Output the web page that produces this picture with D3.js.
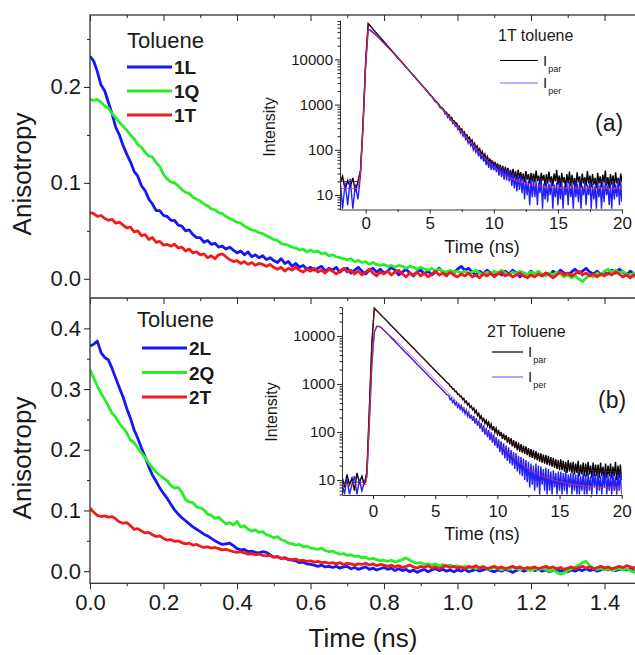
<!DOCTYPE html>
<html>
<head>
<meta charset="utf-8">
<script src="https://cdn.jsdelivr.net/npm/d3@7"></script>
<style>
  body { margin: 0; background: #fff; }
</style>
</head>
<body>
<svg id="chart" width="635" height="655"></svg>
<script>
// anisotropy traces, one value every 0.01 ns from 0 to 1.5 ns
const ANI_DT = 0.01;

const A_1L = [
  0.232,0.227,0.216,0.202,0.196,0.184,0.172,0.158,0.150,0.139,
  0.130,0.122,0.112,0.107,0.097,0.092,0.083,0.078,0.071,0.071,
  0.066,0.065,0.061,0.061,0.056,0.055,0.050,0.051,0.046,0.043,
  0.043,0.038,0.040,0.036,0.037,0.033,0.034,0.031,0.033,0.030,
  0.027,0.029,0.025,0.028,0.023,0.025,0.022,0.024,0.020,0.022,
  0.019,0.017,0.021,0.016,0.018,0.013,0.016,0.012,0.014,0.010,
  0.012,0.009,0.011,0.013,0.008,0.011,0.009,0.012,0.007,0.010,
  0.011,0.006,0.009,0.012,0.008,0.005,0.009,0.011,0.007,0.010,
  0.006,0.008,0.012,0.009,0.004,0.007,0.010,0.006,0.003,0.007,
  0.009,0.005,0.008,0.004,0.007,0.011,0.007,0.004,0.008,0.006,
  0.010,0.013,0.009,0.011,0.007,0.004,0.008,0.005,0.009,0.006,
  0.003,0.007,0.004,0.008,0.005,0.009,0.006,0.002,0.006,0.004,
  0.008,0.005,0.007,0.003,0.006,0.004,0.008,0.005,0.009,0.006,
  0.004,0.007,0.010,0.006,0.008,0.011,0.007,0.005,0.008,0.004,
  0.007,0.005,0.009,0.006,0.010,0.007,0.004,0.008,0.005,0.007,
  0.004
];
const A_1Q = [
  0.187,0.186,0.187,0.184,0.180,0.178,0.172,0.168,0.163,0.159,
  0.155,0.150,0.146,0.140,0.137,0.132,0.128,0.127,0.121,0.117,
  0.109,0.104,0.101,0.100,0.097,0.093,0.090,0.089,0.085,0.083,
  0.081,0.078,0.076,0.073,0.072,0.069,0.068,0.065,0.063,0.061,
  0.059,0.058,0.055,0.053,0.051,0.050,0.048,0.047,0.045,0.043,
  0.041,0.040,0.037,0.036,0.035,0.033,0.032,0.030,0.031,0.028,
  0.030,0.028,0.029,0.026,0.027,0.024,0.025,0.023,0.022,0.021,
  0.020,0.021,0.018,0.019,0.017,0.018,0.015,0.017,0.015,0.014,
  0.015,0.013,0.014,0.012,0.014,0.013,0.011,0.013,0.012,0.010,
  0.012,0.010,0.009,0.011,0.008,0.010,0.008,0.007,0.009,0.007,
  0.008,0.006,0.008,0.005,0.007,0.009,0.006,0.004,0.007,0.005,
  0.008,0.006,0.009,0.006,0.004,0.007,0.005,0.008,0.006,0.004,
  0.007,0.005,0.008,0.005,0.003,0.006,0.004,0.007,0.005,0.002,
  0.004,0.001,0.003,0.000,-0.003,0.001,0.004,0.002,0.006,0.004,
  0.008,0.010,0.007,0.009,0.006,0.008,0.005,0.003,0.006,0.004,
  0.006
];
const A_1T = [
  0.069,0.068,0.065,0.066,0.063,0.061,0.062,0.058,0.059,0.056,
  0.053,0.054,0.049,0.050,0.045,0.046,0.041,0.043,0.038,0.039,
  0.035,0.036,0.034,0.036,0.032,0.033,0.029,0.031,0.027,0.028,
  0.025,0.026,0.022,0.024,0.021,0.025,0.026,0.023,0.020,0.018,
  0.019,0.016,0.018,0.015,0.017,0.014,0.016,0.015,0.013,0.015,
  0.012,0.010,0.012,0.008,0.011,0.009,0.012,0.009,0.007,0.010,
  0.008,0.011,0.007,0.009,0.006,0.010,0.008,0.005,0.008,0.011,
  0.007,0.009,0.005,0.008,0.004,0.007,0.010,0.006,0.003,0.007,
  0.005,0.008,0.004,0.007,0.009,0.005,0.002,0.006,0.004,0.007,
  0.003,0.006,0.002,0.005,0.008,0.004,0.006,0.003,0.007,0.004,
  0.002,0.005,0.003,0.006,0.002,0.004,0.001,0.005,0.003,0.006,
  0.002,0.005,0.007,0.003,0.005,0.002,0.004,0.006,0.003,0.001,
  0.004,0.002,0.005,0.003,0.006,0.004,0.001,0.004,0.007,0.004,
  0.006,0.003,0.005,0.008,0.004,0.006,0.003,0.005,0.002,0.005,
  0.003,0.006,0.004,0.007,0.005,0.002,0.004,0.001,0.004,0.000,
  -0.001
];
const A_2L = [
  0.371,0.374,0.379,0.360,0.352,0.348,0.334,0.318,0.302,0.287,
  0.268,0.252,0.233,0.219,0.203,0.188,0.172,0.158,0.148,0.137,
  0.128,0.120,0.110,0.101,0.094,0.088,0.083,0.078,0.073,0.069,
  0.065,0.061,0.058,0.054,0.050,0.047,0.044,0.045,0.046,0.042,
  0.037,0.035,0.036,0.032,0.033,0.031,0.030,0.032,0.031,0.027,
  0.023,0.024,0.021,0.022,0.019,0.018,0.017,0.014,0.015,0.012,
  0.011,0.010,0.008,0.010,0.007,0.008,0.006,0.008,0.005,0.007,
  0.008,0.004,0.006,0.003,0.005,0.007,0.003,0.005,0.002,0.004,
  0.006,0.003,0.005,0.001,0.004,0.001,0.003,-0.001,0.002,-0.002,
  0.001,0.003,-0.001,0.002,0.004,0.001,0.003,0.000,0.002,-0.001,
  0.002,0.000,0.003,-0.001,0.001,0.003,0.000,0.002,0.004,0.001,
  -0.001,0.002,0.000,0.003,0.001,-0.002,0.001,0.003,0.000,0.002,
  0.004,0.001,0.003,0.000,0.002,-0.001,0.001,0.003,0.000,0.002,
  -0.001,0.002,0.000,0.003,0.001,0.004,0.001,0.003,0.000,0.002,
  0.005,0.002,0.004,0.001,0.003,0.005,0.002,0.004,0.000,-0.003,
  -0.001
];
const A_2Q = [
  0.332,0.318,0.305,0.293,0.283,0.272,0.260,0.254,0.243,0.236,
  0.228,0.216,0.212,0.203,0.195,0.187,0.178,0.170,0.163,0.158,
  0.153,0.149,0.141,0.137,0.138,0.130,0.118,0.114,0.113,0.106,
  0.104,0.101,0.094,0.092,0.087,0.089,0.083,0.078,0.080,0.076,
  0.082,0.073,0.075,0.069,0.066,0.068,0.064,0.065,0.060,0.058,
  0.055,0.057,0.052,0.050,0.046,0.045,0.043,0.044,0.040,0.041,
  0.038,0.037,0.036,0.038,0.034,0.032,0.033,0.030,0.028,0.029,
  0.026,0.027,0.024,0.025,0.022,0.023,0.020,0.021,0.019,0.017,
  0.018,0.016,0.018,0.015,0.017,0.019,0.022,0.018,0.015,0.013,
  0.014,0.011,0.012,0.010,0.012,0.009,0.011,0.008,0.010,0.007,
  0.009,0.006,0.008,0.005,0.007,0.004,0.006,0.008,0.005,0.003,
  0.006,0.004,0.002,0.005,0.003,0.006,0.004,0.002,0.005,0.003,
  0.001,0.004,0.002,0.005,0.003,0.000,0.002,-0.002,-0.005,-0.003,
  0.001,0.004,0.007,0.010,0.014,0.016,0.009,0.005,0.003,0.005,
  0.002,0.004,0.001,0.003,0.005,0.002,0.004,0.001,-0.002,0.001,
  0.003
];
const A_2T = [
  0.104,0.097,0.092,0.090,0.091,0.089,0.090,0.086,0.081,0.079,
  0.080,0.075,0.069,0.070,0.066,0.063,0.064,0.060,0.057,0.058,
  0.054,0.051,0.052,0.049,0.050,0.047,0.045,0.046,0.043,0.044,
  0.041,0.039,0.040,0.038,0.039,0.037,0.035,0.036,0.034,0.032,
  0.031,0.032,0.030,0.028,0.029,0.027,0.028,0.026,0.025,0.026,
  0.023,0.024,0.021,0.022,0.020,0.019,0.020,0.017,0.018,0.016,
  0.017,0.015,0.016,0.014,0.015,0.013,0.014,0.012,0.014,0.011,
  0.013,0.012,0.010,0.012,0.011,0.013,0.010,0.012,0.009,0.011,
  0.010,0.008,0.010,0.007,0.009,0.006,0.008,0.010,0.007,0.005,
  0.008,0.006,0.009,0.005,0.007,0.004,0.007,0.009,0.006,0.008,
  0.005,0.007,0.004,0.008,0.006,0.009,0.005,0.007,0.004,0.006,
  0.008,0.005,0.007,0.004,0.006,0.008,0.005,0.007,0.004,0.006,
  0.005,0.007,0.004,0.006,0.008,0.005,0.007,0.004,0.006,0.003,
  0.005,0.007,0.004,0.006,0.008,0.005,0.007,0.004,0.006,0.008,
  0.005,0.007,0.004,0.006,0.008,0.006,0.009,0.007,0.005,0.008,
  0.006
];

// inset decays: a head every 0.2 ns, then a tail every 0.1 ns from 6.1 to 20 ns
const HEAD_DT = 0.2;
const TAIL_T0 = 6.1, TAIL_DT = 0.1;

const HEAD_A_T0 = -2;
const PAR_A_HEAD = [
  18,26,13,21,15,24,12,20,35,400,
  9000,62000,53100,45700,39400,33900,29200,25100,21600,18600,
  16000,13800,11900,10200,8810,7590,6530,5620,4840,4170,
  3590,3090,2660,2290,1970,1700,1480,1250,1100,920,
  830
];
const PAR_A_TAIL = [
  760,690,680,590,600,510,520,445,440,385,
  390,320,335,270,290,236,250,200,215,175,
  190,150,165,125,140,108,122,92,105,80,
  92,68,80,58,70,52,64,46,58,42,
  54,38,50,34,47,33,44,30,42,29,
  40,27,36,25,38,24,34,22,36,23,
  32,21,30,19,34,22,29,18,31,20,
  30,19,35,20,27,17,31,21,28,16,
  29,18,33,19,26,16,30,20,36,17,
  27,15,31,19,25,14,29,18,33,16,
  28,17,24,15,32,19,26,14,30,18,
  25,16,34,18,27,15,29,17,24,14,
  31,18,26,15,28,19,35,16,25,14,
  29,17,27,15,32,18,24,16,30,19
];
const PER_A_HEAD = [
  24,5,19,6,23,5,17,8,28,320,
  7000,46000,43500,39000,34700,30500,26700,23300,20300,17700,
  15400,13400,11600,10000,8700,7500,6480,5600,4830,4160,
  3580,3080,2650,2280,1960,1650,1460,1190,1070,860,
  790
];
const PER_A_TAIL = [
  720,620,640,520,560,450,480,380,410,330,
  345,280,300,235,260,200,225,170,185,140,
  160,122,140,100,120,88,104,72,90,62,
  78,55,70,46,62,40,56,36,52,35,
  48,32,45,27,42,25,39,22,38,21,
  36,20,33,16,30,14,27,12,28,13,
  26,11,24,8,23,10,21,6,22,9,
  22,9,20,6,19,11,23,5,18,8,
  20,7,18,10,21,5,17,9,19,6,
  19,8,21,5,16,10,18,6,20,9,
  17,5,20,9,18,7,22,5,16,10,
  19,6,17,10,21,5,18,8,16,5,
  20,9,17,5,19,7,21,10,16,6,
  18,5,20,8,17,9,22,6,19,7
];
const FIT_T_A = [-2,-0.6,-0.4,-0.2,0,0.2,1,2,3,4,5,6,7,8,9,10,11,12,13,14,15,16,18,20];
const FIT_PAR_A = [20,20,35,420,9500,62000,34000,16000,7600,3580,1700,805,385,185,92,52,34,27,24,22,21.5,21,20.5,20];
const FIT_PER_A = [14,14,30,350,7500,46000,30000,15200,7600,3560,1680,785,365,170,80,42,26,19.5,16.5,15.2,14.6,14.3,14.1,14];

const HEAD_B_T0 = -2.5;
const PAR_B_HEAD = [
  12,7,13,8,11,6,14,9,12,8,
  15,300,7000,38000,33600,29800,26400,23300,20700,18300,
  16200,14300,12700,11200,9930,8790,7780,6890,6100,5400,
  4780,4230,3740,3310,2930,2590,2300,2030,1800,1590,
  1410,1250,1100
];
const PAR_B_TAIL = [
  1000,890,880,780,790,690,700,610,620,545,
  560,470,500,410,440,365,395,325,350,290,
  315,250,280,220,245,190,215,170,190,150,
  175,135,160,122,145,108,132,98,118,90,
  110,82,100,72,92,68,86,60,78,56,
  74,50,68,46,64,42,60,39,56,37,
  52,35,50,33,46,30,44,29,42,27,
  40,26,37,24,36,23,34,22,33,21,
  32,20,30,19,29,18,27,17,26,16,
  27,16,25,15,24,14,26,15,23,14,
  24,13,22,14,25,12,21,13,23,12,
  22,12,24,13,20,11,23,12,21,12,
  21,11,23,12,19,10,22,11,20,12,
  22,11,19,12,24,10,20,11,21,10
];
const PER_B_HEAD = [
  9,5,11,5,8,12,5,10,6,9,
  12,150,2500,12000,16000,15800,14600,13000,11500,10200,
  9000,7950,7050,6230,5510,4880,4320,3820,3390,3000,
  2650,2350,2080,1840,1630,1440,1280,1130,1000,885,
  785,695,610
];
const PER_B_TAIL = [
  570,470,510,410,460,370,415,330,375,300,
  350,270,315,240,285,215,255,190,230,170,
  215,150,195,135,172,118,155,100,138,88,
  122,78,110,68,98,60,88,52,78,46,
  70,38,64,33,58,28,52,25,48,22,
  42,20,38,17,36,15,32,13,30,12,
  28,10,26,9,24,7,22,8,20,6,
  22,7,20,5,19,8,17,6,18,5,
  17,6,15,5,16,7,14,5,15,6,
  15,5,14,6,16,5,13,7,14,5,
  14,6,13,5,15,5,12,6,14,5,
  13,5,14,6,12,5,15,7,13,5,
  14,6,12,5,13,7,15,5,12,6,
  13,5,14,6,12,5,13,6,14,5
];
const FIT_T_B = [-2.5,-0.6,-0.5,-0.3,-0.1,0.1,0.3,0.5,1,2,3,4,5,6,7,8,9,10,11,12,13,14,15,16,17,18,20];
const FIT_PAR_B = [9,9,15,320,7200,38000,33600,29800,22000,12000,6500,3500,1900,1040,570,310,175,100,64,44,33,26,21,18,16.5,15.5,14.5];
const FIT_PER_B = [8,8,11,160,2600,12000,16000,15800,12200,7400,4100,2250,1230,670,365,200,110,60,34,21,14,11,9.2,8.2,7.5,7.1,6.7];

// ticks and labels
const X_TICKS = [0, 0.2, 0.4, 0.6, 0.8, 1.0, 1.2, 1.4];
const X_MINOR = [0.1, 0.3, 0.5, 0.7, 0.9, 1.1, 1.3];
const TOP_Y_TICKS = [0, 0.1, 0.2];
const TOP_Y_MINOR = [0.05, 0.15, 0.25];
const BOT_Y_TICKS = [0, 0.1, 0.2, 0.3, 0.4];
const BOT_Y_MINOR = [0.05, 0.15, 0.25, 0.35];
const INSET_X_TICKS = [0, 5, 10, 15, 20];
const INSET_X_MINOR = [-2.5, 2.5, 7.5, 12.5, 17.5];
const INSET_Y_TICKS = [10, 100, 1000, 10000];

const FONT = "'Liberation Sans', Arial, Helvetica, sans-serif";
const BLUE = "#1717f5", GREEN = "#27ee27", RED = "#f21a1a";

const svg = d3.select("#chart");
const x = d3.scaleLinear().domain([0, 1.5]).range([90, 641.25]);

function points(vals, t0, dt) {
  return vals.map((v, i) => [t0 + i * dt, v]);
}

function styleAxis(g, size) {
  g.attr("font-family", FONT).attr("font-size", size);
  g.selectAll("line").attr("stroke", "#333").attr("stroke-width", 1.1);
  g.selectAll("path.domain").attr("stroke", "#333");
  g.selectAll("text").attr("fill", "#1a1a1a");
  return g;
}

function drawMain(p) {
  const y = d3.scaleLinear().domain(p.yDomain).range([p.bottom, p.top]);
  const clip = "clip-" + p.id;
  svg.append("clipPath").attr("id", clip).append("rect")
    .attr("x", x(0)).attr("y", p.top)
    .attr("width", x(1.5) - x(0)).attr("height", p.bottom - p.top);

  const line = d3.line().x(d => x(d[0])).y(d => y(d[1]));
  const lines = svg.append("g").attr("clip-path", "url(#" + clip + ")");
  p.series.forEach(s => {
    lines.append("path")
      .datum(points(s.values, 0, ANI_DT))
      .attr("fill", "none")
      .attr("stroke", s.color)
      .attr("stroke-width", 2.8)
      .attr("stroke-linejoin", "round")
      .attr("d", line);
  });

  // left axis with labels
  const left = svg.append("g").attr("transform", "translate(" + x(0) + ",0)")
    .call(d3.axisLeft(y).tickValues(p.yTicks).tickFormat(d3.format(".1f")).tickSize(6).tickPadding(3));
  left.select(".domain").remove();
  styleAxis(left, 22);
  const leftMinor = svg.append("g").attr("transform", "translate(" + x(0) + ",0)")
    .call(d3.axisLeft(y).tickValues(p.yMinor).tickFormat("").tickSize(3));
  leftMinor.select(".domain").remove();
  styleAxis(leftMinor, 10);

  // right axis, ticks pointing in
  [[p.yTicks, 6], [p.yMinor, 3]].forEach(([vals, len]) => {
    const r = svg.append("g").attr("transform", "translate(" + x(1.5) + ",0)")
      .call(d3.axisLeft(y).tickValues(vals).tickFormat("").tickSize(len));
    r.select(".domain").remove();
    styleAxis(r, 10);
  });

  // top edge ticks, pointing down
  if (p.topTicks) {
    [[X_TICKS, 6], [X_MINOR, 3]].forEach(([vals, len]) => {
      const t = svg.append("g").attr("transform", "translate(0," + p.top + ")")
        .call(d3.axisBottom(x).tickValues(vals).tickFormat("").tickSize(len));
      t.select(".domain").remove();
      styleAxis(t, 10);
    });
  }

  // bottom edge
  const bottom = svg.append("g").attr("transform", "translate(0," + p.bottom + ")")
    .call(d3.axisBottom(x).tickValues(X_TICKS)
      .tickFormat(p.xLabels ? d3.format(".1f") : "").tickSize(6).tickPadding(5));
  bottom.select(".domain").remove();
  styleAxis(bottom, 22);
  const bottomMinor = svg.append("g").attr("transform", "translate(0," + p.bottom + ")")
    .call(d3.axisBottom(x).tickValues(X_MINOR).tickFormat("").tickSize(3));
  bottomMinor.select(".domain").remove();
  styleAxis(bottomMinor, 10);

  // y title
  svg.append("text")
    .attr("transform", "translate(31," + p.titleY + ") rotate(-90)")
    .attr("text-anchor", "middle")
    .attr("font-family", FONT).attr("font-size", 26).attr("fill", "#1a1a1a")
    .text("Anisotropy");

  // legend
  const lg = p.legend;
  svg.append("text")
    .attr("x", lg.x).attr("y", lg.titleY)
    .attr("font-family", FONT).attr("font-size", 22).attr("fill", "#1a1a1a")
    .text("Toluene");
  p.series.forEach((s, i) => {
    const ly = lg.y0 + i * lg.dy;
    svg.append("line")
      .attr("x1", lg.x + lg.indent).attr("x2", lg.x + lg.indent + 45)
      .attr("y1", ly).attr("y2", ly)
      .attr("stroke", s.color).attr("stroke-width", 3);
    svg.append("text")
      .attr("x", lg.x + lg.indent + 47).attr("y", ly + 7)
      .attr("font-family", FONT).attr("font-size", 19).attr("font-weight", "bold")
      .attr("fill", "#1a1a1a")
      .text(s.name);
  });
}

function drawInset(s) {
  const xi = d3.scaleLinear().domain(s.xDomain).range([s.left, s.right]);
  const yi = d3.scaleLog().domain(s.yDomain).range([s.bottom, s.top]);
  const clip = "clip-" + s.id;
  svg.append("clipPath").attr("id", clip).append("rect")
    .attr("x", s.left).attr("y", s.top - 4)
    .attr("width", s.right - s.left).attr("height", s.bottom - s.top + 4);

  const line = d3.line().x(d => xi(d[0])).y(d => yi(d[1]));
  const trace = (head, tail) => points(head, s.t0, HEAD_DT).concat(points(tail, TAIL_T0, TAIL_DT));
  const g = svg.append("g").attr("clip-path", "url(#" + clip + ")");
  g.append("path").datum(trace(s.parHead, s.parTail))
    .attr("fill", "none").attr("stroke", "#000").attr("stroke-width", 1.4).attr("d", line);
  g.append("path").datum(trace(s.perHead, s.perTail))
    .attr("fill", "none").attr("stroke", "#2020ff").attr("stroke-width", 1.4).attr("d", line);
  g.append("path").datum(s.fitT.map((t, i) => [t, s.fitPar[i]]))
    .attr("fill", "none").attr("stroke", "#7c1414").attr("stroke-width", 0.9).attr("d", line);
  g.append("path").datum(s.fitT.map((t, i) => [t, s.fitPer[i]]))
    .attr("fill", "none").attr("stroke", "#ff3030").attr("stroke-width", 0.8).attr("d", line);

  // log minor ticks
  const minor = [];
  [1, 10, 100, 1000, 10000].forEach(d => {
    for (let m = 2; m <= 9; m++) {
      const v = d * m;
      if (v > s.yDomain[0] && v < s.yDomain[1]) minor.push(v);
    }
  });

  const left = svg.append("g").attr("transform", "translate(" + s.left + ",0)")
    .call(d3.axisLeft(yi).tickValues(INSET_Y_TICKS).tickFormat(d3.format("d")).tickSize(5).tickSizeOuter(0).tickPadding(2));
  styleAxis(left, 15);
  const leftMinor = svg.append("g").attr("transform", "translate(" + s.left + ",0)")
    .call(d3.axisLeft(yi).tickValues(minor).tickFormat("").tickSize(2.5));
  leftMinor.select(".domain").remove();
  styleAxis(leftMinor, 10);

  const bottom = svg.append("g").attr("transform", "translate(0," + s.bottom + ")")
    .call(d3.axisBottom(xi).tickValues(INSET_X_TICKS).tickSize(4).tickSizeOuter(0).tickPadding(s.xPad));
  styleAxis(bottom, 17);
  const bottomMinor = svg.append("g").attr("transform", "translate(0," + s.bottom + ")")
    .call(d3.axisBottom(xi).tickValues(INSET_X_MINOR.filter(v => v > s.xDomain[0])).tickFormat("").tickSize(2.5));
  bottomMinor.select(".domain").remove();
  styleAxis(bottomMinor, 10);

  svg.append("text")
    .attr("transform", "translate(" + s.yTitle[0] + "," + s.yTitle[1] + ") rotate(-90)")
    .attr("text-anchor", "middle")
    .attr("font-family", FONT).attr("font-size", 16).attr("fill", "#1a1a1a")
    .text("Intensity");
  svg.append("text")
    .attr("x", s.xTitle[0]).attr("y", s.xTitle[1])
    .attr("text-anchor", "middle")
    .attr("font-family", FONT).attr("font-size", 18).attr("fill", "#1a1a1a")
    .text("Time (ns)");

  // legend
  const lg = s.legend;
  svg.append("text")
    .attr("x", lg.x).attr("y", lg.titleY)
    .attr("font-family", FONT).attr("font-size", 16).attr("fill", "#1a1a1a")
    .text(lg.title);
  [["par", "#000"], ["per", "#6b6bff"]].forEach(([sub, col], i) => {
    const ly = lg.y0 + i * lg.dy;
    svg.append("line")
      .attr("x1", lg.lx).attr("x2", lg.lx + lg.len)
      .attr("y1", ly).attr("y2", ly)
      .attr("stroke", col).attr("stroke-width", 1.2);
    const t = svg.append("text")
      .attr("x", lg.lx + lg.len + 5).attr("y", ly + 5)
      .attr("font-family", FONT).attr("font-size", 15).attr("fill", "#1a1a1a")
      .text("I");
    t.append("tspan").attr("dy", 6).attr("dx", 1).attr("font-size", 9).text(sub);
  });

  svg.append("text")
    .attr("x", s.tag[0]).attr("y", s.tag[1])
    .attr("font-family", FONT).attr("font-size", 23).attr("fill", "#1a1a1a")
    .text(s.tag[2]);
}

drawMain({
  id: "top", top: 15, bottom: 298, yDomain: [-0.02, 0.275],
  yTicks: TOP_Y_TICKS, yMinor: TOP_Y_MINOR, topTicks: true, xLabels: false,
  titleY: 174,
  series: [
    { name: "1L", values: A_1L, color: BLUE },
    { name: "1Q", values: A_1Q, color: GREEN },
    { name: "1T", values: A_1T, color: RED }
  ],
  legend: { x: 127, titleY: 48, indent: 0, y0: 67, dy: 24 }
});

drawMain({
  id: "bot", top: 298, bottom: 583.3, yDomain: [-0.02, 0.45],
  yTicks: BOT_Y_TICKS, yMinor: BOT_Y_MINOR, topTicks: false, xLabels: true,
  titleY: 458,
  series: [
    { name: "2L", values: A_2L, color: BLUE },
    { name: "2Q", values: A_2Q, color: GREEN },
    { name: "2T", values: A_2T, color: RED }
  ],
  legend: { x: 137, titleY: 327, indent: 5, y0: 348, dy: 24.5 }
});

// main frame
svg.append("rect")
  .attr("x", x(0)).attr("y", 15)
  .attr("width", x(1.5) - x(0)).attr("height", 583.3 - 15)
  .attr("fill", "none").attr("stroke", "#333").attr("stroke-width", 1.3);
svg.append("line")
  .attr("x1", x(0)).attr("x2", x(1.5)).attr("y1", 298).attr("y2", 298)
  .attr("stroke", "#333").attr("stroke-width", 1.3);

svg.append("text")
  .attr("x", 363).attr("y", 647)
  .attr("text-anchor", "middle")
  .attr("font-family", FONT).attr("font-size", 26).attr("fill", "#1a1a1a")
  .text("Time (ns)");

drawInset({
  id: "insA", left: 340, right: 622, top: 20, bottom: 209.5,
  xDomain: [-2, 20], yDomain: [4.8, 74000], t0: HEAD_A_T0,
  parHead: PAR_A_HEAD, parTail: PAR_A_TAIL, perHead: PER_A_HEAD, perTail: PER_A_TAIL,
  fitT: FIT_T_A, fitPar: FIT_PAR_A, fitPer: FIT_PER_A,
  xPad: 3, yTitle: [275, 127], xTitle: [482, 253],
  legend: { title: "1T toluene", x: 498, titleY: 41, lx: 500, len: 38, y0: 60.5, dy: 22.5 },
  tag: [595, 131, "(a)"]
});

drawInset({
  id: "insB", left: 342, right: 621.7, top: 307, bottom: 495,
  xDomain: [-2.5, 20], yDomain: [4.87, 40200], t0: HEAD_B_T0,
  parHead: PAR_B_HEAD, parTail: PAR_B_TAIL, perHead: PER_B_HEAD, perTail: PER_B_TAIL,
  fitT: FIT_T_B, fitPar: FIT_PAR_B, fitPer: FIT_PER_B,
  xPad: 6, yTitle: [277, 412], xTitle: [482, 540],
  legend: { title: "2T Toluene", x: 487, titleY: 337, lx: 492, len: 31, y0: 352, dy: 25 },
  tag: [598, 408, "(b)"]
});
</script>
</body>
</html>
